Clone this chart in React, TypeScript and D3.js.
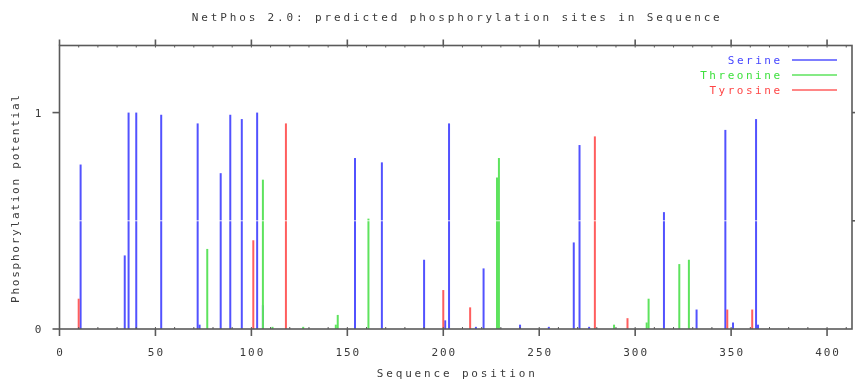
import React from 'react';
import * as d3 from 'd3';

// NetPhos scores: [sequence position, potential]
const serinePos = [11, 34, 36, 40, 53, 72, 73, 84, 89, 95, 103, 106, 154, 168, 190, 201, 203, 217, 221, 240, 255, 268, 271, 276, 315, 332, 347, 351, 363, 364];
const serineVal = [0.76, 0.34, 1.0, 1.0, 0.99, 0.95, 0.02, 0.72, 0.99, 0.97, 1.0, 0.11, 0.79, 0.77, 0.32, 0.04, 0.95, 0.01, 0.28, 0.02, 0.01, 0.4, 0.85, 0.01, 0.54, 0.09, 0.92, 0.03, 0.97, 0.02];

const threoninePos = [77, 106, 111, 127, 144, 145, 161, 228, 229, 289, 306, 307, 323, 328];
const threonineVal = [0.37, 0.69, 0.01, 0.01, 0.02, 0.065, 0.51, 0.7, 0.79, 0.02, 0.03, 0.14, 0.3, 0.32];

const tyrosinePos = [10, 101, 118, 200, 214, 279, 296, 348, 361];
const tyrosineVal = [0.14, 0.41, 0.95, 0.18, 0.1, 0.89, 0.05, 0.09, 0.09];

const xTicks = [0, 50, 100, 150, 200, 250, 300, 350, 400];
const yTickLabels = [0, 1];

const series = [
  { name: 'Serine', pos: serinePos, val: serineVal, color: '#5252ff', text: '#4646ff' },
  { name: 'Threonine', pos: threoninePos, val: threonineVal, color: '#5ee35e', text: '#3ee03e' },
  { name: 'Tyrosine', pos: tyrosinePos, val: tyrosineVal, color: '#ff5e5e', text: '#ff4646' },
];

const W = 856;
const H = 381;
const margin = { top: 45.5, right: 4, bottom: 52, left: 59.5 };
const font = '"DejaVu Sans Mono", monospace';
const axisColor = '#5a5a5a';
const textColor = '#3a3a3a';

export default function App() {
  const x = d3.scaleLinear().domain([0, 413]).range([margin.left, W - margin.right]);
  const y = d3.scaleLinear().domain([0, 1.31]).range([H - margin.bottom, margin.top]);
  const [x0, x1] = x.range();
  const [yb, yt] = y.range();
  const minor = d3.range(0, 413, 10);

  const textProps = {
    fontFamily: font,
    fontSize: 11,
    fill: textColor,
  };

  return (
    <svg width={W} height={H} style={{ position: 'absolute', left: 0, top: 0, background: '#fff' }}>
      <text {...textProps} x={(x0 + x1) / 2} y={21} textAnchor="middle" textLength={528} lengthAdjust="spacing">
        NetPhos 2.0: predicted phosphorylation sites in Sequence
      </text>

      {/* bars */}
      <g style={{ mixBlendMode: 'multiply' }}>
        {series.map(s =>
          s.pos.map((p, i) => (
            <line key={s.name + i} x1={x(p)} x2={x(p)} y1={yb} y2={y(s.val[i])} stroke={s.color} strokeWidth={2} />
          ))
        )}
      </g>

      {/* grid line at 0.5 shows as a break through the bars */}
      <line x1={x0} x2={x1} y1={y(0.5)} y2={y(0.5)} stroke="#fff" strokeWidth={1} strokeOpacity={0.85} />

      {/* border */}
      <rect x={x0} y={yt} width={x1 - x0} height={yb - yt} fill="none" stroke={axisColor} strokeWidth={1.6} />

      {/* minor ticks */}
      {minor.map(v => (
        <g key={'m' + v}>
          <line x1={x(v)} x2={x(v)} y1={yb} y2={yb - 2} stroke={axisColor} strokeWidth={1} />
          <line x1={x(v)} x2={x(v)} y1={yt} y2={yt + 2} stroke={axisColor} strokeWidth={1} />
        </g>
      ))}

      {/* x ticks */}
      {xTicks.map(v => (
        <g key={'x' + v}>
          <line x1={x(v)} x2={x(v)} y1={yb} y2={yb + 7} stroke={axisColor} strokeWidth={1.6} />
          <line x1={x(v)} x2={x(v)} y1={yt} y2={yt - 6} stroke={axisColor} strokeWidth={1.6} />
          <text {...textProps} x={x(v)} y={356} textAnchor="middle" textLength={String(v).length * 8.6 - 2} lengthAdjust="spacing">
            {v}
          </text>
        </g>
      ))}

      {/* y ticks */}
      {yTickLabels.map(v => (
        <g key={'y' + v}>
          <line x1={x0 - 7} x2={x0} y1={y(v)} y2={y(v)} stroke={axisColor} strokeWidth={1.6} />
          <text {...textProps} x={38} y={y(v) + 4} textAnchor="middle">
            {v}
          </text>
        </g>
      ))}
      {[0.5, 1].map(v => (
        <line key={'r' + v} x1={x1} x2={x1 + 3} y1={y(v)} y2={y(v)} stroke={axisColor} strokeWidth={1.6} />
      ))}

      <text {...textProps} x={(x0 + x1) / 2} y={377} textAnchor="middle" textLength={158} lengthAdjust="spacing">
        Sequence position
      </text>
      <text
        {...textProps}
        transform={`translate(19,${199}) rotate(-90)`}
        textAnchor="middle"
        textLength={208}
        lengthAdjust="spacing"
      >
        Phosphorylation potential
      </text>

      {/* legend */}
      {series.map((s, i) => (
        <g key={'l' + s.name} transform={`translate(0,${60 + i * 15})`}>
          <text
            fontFamily={font}
            fontSize={11}
            fill={s.text}
            x={780}
            y={4}
            textAnchor="end"
            textLength={s.name.length * 9.2 - 3}
            lengthAdjust="spacing"
          >
            {s.name}
          </text>
          <line x1={792} x2={837} y1={0} y2={0} stroke={s.color} strokeWidth={1.5} />
        </g>
      ))}
    </svg>
  );
}
